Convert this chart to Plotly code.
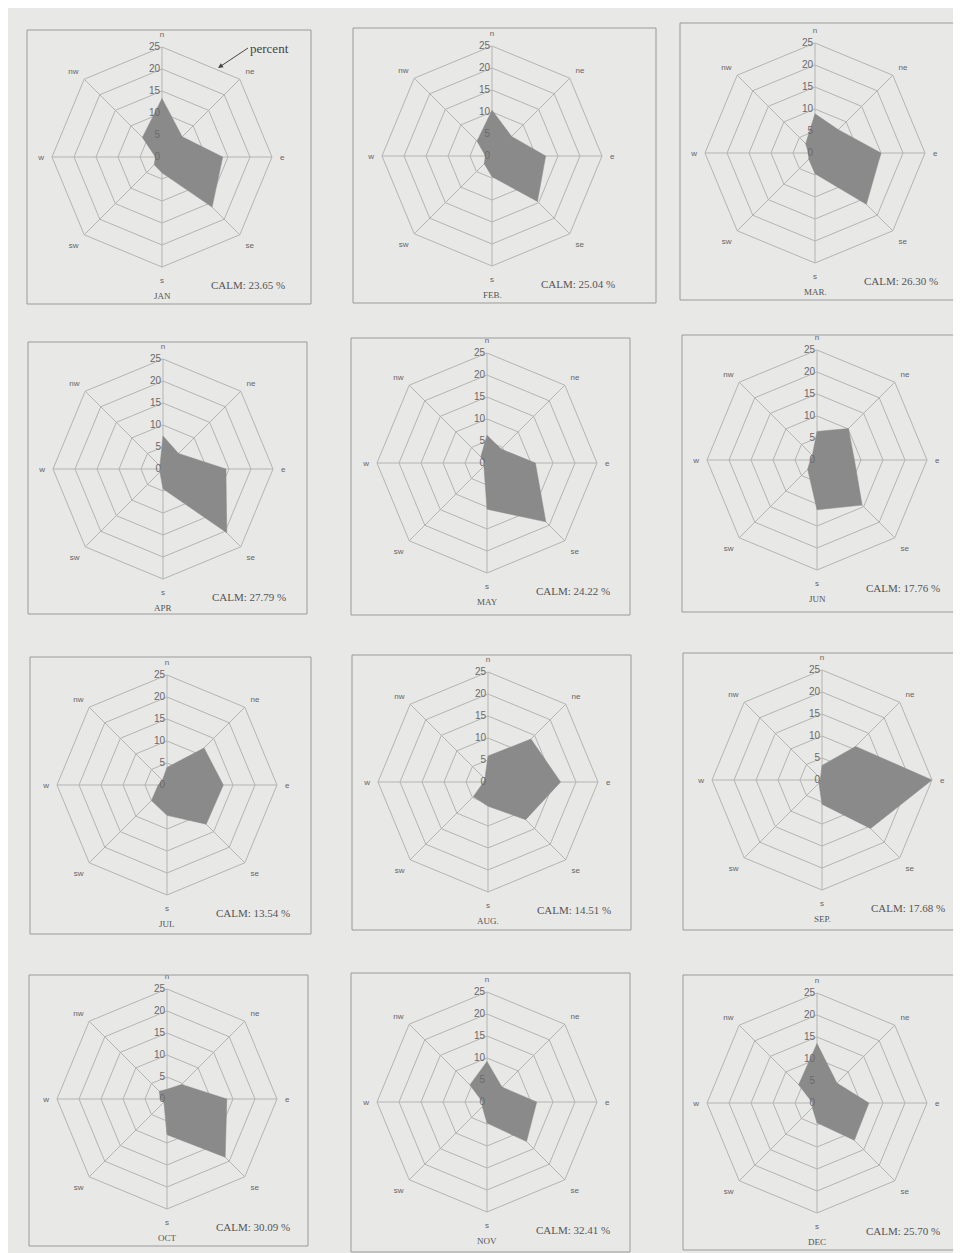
import plotly.graph_objects as go

directions = ["n", "ne", "e", "se", "s", "sw", "w", "nw"]
months = ["JAN", "FEB.", "MAR.", "APR", "MAY", "JUN", "JUL", "AUG.", "SEP.", "OCT", "NOV", "DEC"]
calm = ["23.65", "25.04", "26.30", "27.79", "24.22", "17.76", "13.54", "14.51", "17.68", "30.09", "32.41", "25.70"]

jan = [13.3, 6.5, 13.8, 16.1, 3.6, 2.5, 1.5, 6.3]
feb = [10.4, 6.3, 12.2, 14.6, 4.7, 2.5, 1.5, 4.8]
mar = [8.9, 7.5, 15.0, 16.5, 4.7, 2.0, 1.5, 3.0]
apr = [7.5, 5.0, 14.3, 20.5, 4.5, 1.0, 0.5, 1.0]
may = [6.3, 4.5, 11.0, 18.9, 10.5, 1.0, 0.5, 2.0]
jun = [6.5, 10.1, 8.5, 14.5, 11.3, 3.0, 1.5, 1.5]
jul = [4.0, 11.9, 12.8, 12.6, 6.9, 5.0, 2.0, 1.5]
aug = [5.9, 13.8, 16.5, 12.1, 5.5, 4.7, 1.0, 1.0]
sep = [3.3, 10.8, 25.0, 15.6, 5.5, 1.0, 0.5, 0.5]
oct_ = [2.2, 4.7, 13.6, 18.7, 8.1, 1.0, 1.5, 2.5]
nov = [9.2, 4.8, 11.3, 12.7, 4.8, 1.5, 1.0, 5.5]
dec = [13.5, 6.4, 11.8, 12.0, 4.5, 1.5, 1.0, 5.9]
series = [jan, feb, mar, apr, may, jun, jul, aug, sep, oct_, nov, dec]

radial_ticks = [0, 5, 10, 15, 20, 25]

# page geometry (pixels in the browser window); the page body has an 8px margin
OFF = 8
W, H = 961 - OFF, 1253 - OFF
centers = [(162, 157), (492, 156), (815, 153),
           (163, 469), (487, 463), (817, 460),
           (167, 785), (488, 782), (822, 780),
           (167, 1099), (487, 1102), (817, 1103)]
frames = [(27, 30, 311, 304), (353, 28, 656, 303), (680, 23, 957, 300),
          (28, 342, 307, 614), (351, 338, 630, 615), (682, 335, 955, 612),
          (30, 657, 311, 934), (352, 655, 631, 930), (683, 653, 960, 930),
          (29, 975, 308, 1246), (351, 973, 630, 1252), (683, 975, 960, 1250)]
R = 110


def px(x):
    return (x - OFF) / W


def py(y):
    return 1 - (y - OFF) / H


bg = "#e8e8e6"
grid = "#b4b4b4"
fill = "#8a8a8a"
txt = "#555555"

fig = go.Figure()
layout = {}
annotations = []
shapes = []

for i, vals in enumerate(series):
    key = "polar" if i == 0 else f"polar{i+1}"
    cx, cy = centers[i]
    fig.add_trace(go.Scatterpolar(
        r=vals + [vals[0]], theta=directions + [directions[0]],
        fill="toself", fillcolor=fill, mode="lines",
        line=dict(color=fill, width=0.5),
        subplot=key, showlegend=False, hoverinfo="skip"))
    layout[key] = dict(
        domain=dict(x=[px(cx - R), px(cx + R)], y=[py(cy + R), py(cy - R)]),
        bgcolor="rgba(0,0,0,0)",
        gridshape="linear",
        radialaxis=dict(range=[0, 25], tickvals=radial_ticks, angle=90, tickangle=90,
                        side="counterclockwise", showline=False,
                        gridcolor=grid, gridwidth=1, ticks="",
                        tickfont=dict(family="Liberation Sans", size=10, color="#6a6a6a")),
        angularaxis=dict(rotation=90, direction="clockwise",
                         categoryarray=directions, type="category",
                         linecolor=grid, linewidth=1, gridcolor=grid,
                         ticks="outside", ticklen=6, tickcolor="rgba(0,0,0,0)",
                         showline=True,
                         tickfont=dict(family="Liberation Sans", size=8, color="#666666")),
    )
    x0, y0, x1, y1 = frames[i]
    shapes.append(dict(type="rect", xref="paper", yref="paper",
                       x0=px(x0), x1=px(x1), y0=py(y1), y1=py(y0),
                       line=dict(color="#9a9a9a", width=1)))
    annotations.append(dict(x=px(cx), y=py(cy + 139), xref="paper", yref="paper",
                            xanchor="center", yanchor="middle",
                            text=months[i], showarrow=False,
                            font=dict(family="Liberation Serif", size=9, color=txt)))
    annotations.append(dict(x=px(cx + 86), y=py(cy + 128), xref="paper", yref="paper",
                            xanchor="center", yanchor="middle",
                            text=f"CALM: {calm[i]} %", showarrow=False,
                            font=dict(family="Liberation Serif", size=11, color=txt)))

annotations.append(dict(x=px(218), y=py(68), xref="paper", yref="paper",
                        text="percent", showarrow=True, arrowhead=2, arrowsize=1,
                        arrowwidth=1, arrowcolor="#444444",
                        ax=30, ay=-20, xanchor="left", yanchor="middle",
                        font=dict(family="Liberation Serif", size=13, color="#444444")))

fig.update_layout(width=W, height=H, margin=dict(l=0, r=0, t=0, b=0),
                  paper_bgcolor=bg, plot_bgcolor=bg,
                  annotations=annotations, shapes=shapes, **layout)
fig.write_html("out.html")
